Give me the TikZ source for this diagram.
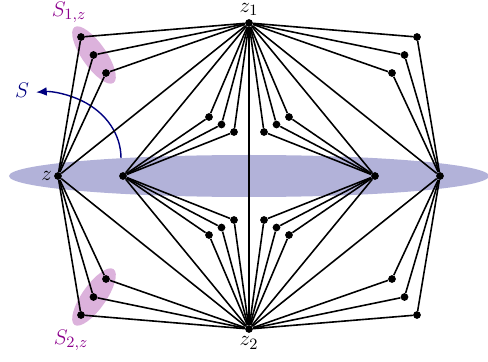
\documentclass[tikz,border=0pt]{standalone}
\usetikzlibrary{arrows.meta}
\definecolor{setblue}{rgb}{0,0,0.5}
\definecolor{setpink}{rgb}{0.55,0,0.55}
\begin{document}
\begin{tikzpicture}[x=0.02cm, y=0.02cm, font=\fontsize{13}{15}\selectfont,
  vtx/.style={circle, fill=black, inner sep=0pt, minimum size=4.4pt},
  link/.style={line width=0.9pt}]
  \useasboundingbox (-249,-186) rectangle (239,176);

  % the set S and the two sets S_{i,z}
  \fill[setblue, opacity=0.3] (0,0) ellipse [x radius=240, y radius=21];
  \fill[setpink, opacity=0.3, rotate around={-55:(-155,121)}] (-155,121) ellipse [x radius=34, y radius=12];
  \fill[setpink, opacity=0.3, rotate around={55:(-155,-121)}] (-155,-121) ellipse [x radius=34, y radius=12];
  \node[setpink] (s1z) at (-180,164) {$S_{1,z}$};
  \node[setpink] (s2z) at (-178,-164) {$S_{2,z}$};
  \draw[setblue, thick, -{Latex[length=6pt,width=5pt]}] (-128,18) arc[start angle=0, end angle=95, x radius=78, y radius=66];
  \node[setblue] (s) at (-227,86) {$S$};

  % poles and vertices on S
  \node[vtx, label={[label distance=-1.5pt]above:$z_1$}] (z1) at (0,153) {};
  \node[vtx, label={[label distance=-1.5pt]below:$z_2$}] (z2) at (0,-153) {};
  \node[vtx, label={[label distance=-2.5pt]left:$z$}] (z) at (-191,0) {};
  \node[vtx] (u) at (-126,0) {};
  \node[vtx] (v) at (126,0) {};
  \node[vtx] (w) at (191,0) {};

  % direct edges
  \draw[link] (z1) -- (z2);
  \foreach \e in {z,u,v,w}
    \draw[link] (z1) -- (\e) -- (z2);

  % paths of length two through the clusters
  \foreach \e/\x/\y/\dx/\dy in {z/-168/139/12.5/-18, u/-40/59/12.5/-7.5,
                                v/40/59/-12.5/-7.5, w/168/139/-12.5/-18}
    \foreach \i in {0,1,2} {
      \node[vtx] (t\e\i) at (\x+\i*\dx, \y+\i*\dy) {};
      \node[vtx] (b\e\i) at (\x+\i*\dx, -\y-\i*\dy) {};
      \draw[link] (z1) -- (t\e\i) -- (\e);
      \draw[link] (z2) -- (b\e\i) -- (\e);
    }
\end{tikzpicture}
\end{document}
